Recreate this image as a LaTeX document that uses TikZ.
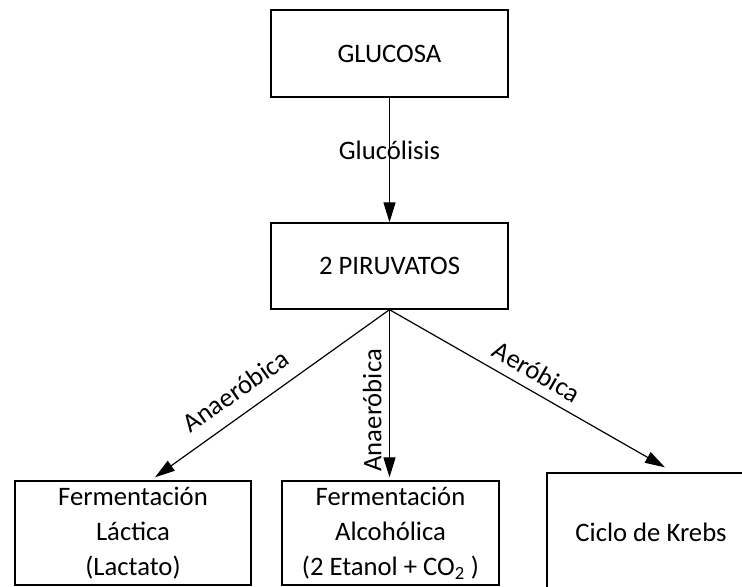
\documentclass[tikz,border=0pt]{standalone}
\usepackage{fontspec}
\setmainfont{Carlito}
\usetikzlibrary{arrows.meta,calc}
\tikzset{
  blk/.style={draw, line width=1pt, inner sep=0pt, align=center, font=\fontsize{20}{26.25}\selectfont},
  lbl/.style={inner sep=2pt, font=\fontsize{20}{24}\selectfont},
  arr/.style={-{Triangle[length=15pt,width=9pt]}, line width=0.9pt},
}
\begin{document}
\begin{tikzpicture}[x=0.75pt,y=0.75pt,yscale=-1,xscale=1]
\useasboundingbox (0,0) rectangle (742,586);
\clip (0,0) rectangle (742,586);

%Boxes
\node[blk, minimum width=177.75pt, minimum height=65.25pt] (glucosa) at (389.5,53.5) {GLUCOSA};
\node[blk, minimum width=177.75pt, minimum height=64.5pt] (piruv) at (389.5,266) {2 PIRUVATOS};
\node[blk, minimum width=177pt, minimum height=78pt] (lactica) at (133,533) {Fermentación\\Láctica\\(Lactato)};
\node[blk, minimum width=162.75pt, minimum height=78pt] (alcoholica) at (390.5,533) {Fermentación\\Alcohólica\\(2 Etanol + CO\textsubscript{2} )};
\node[blk, minimum width=156pt, minimum height=89.25pt] (krebs) at (651,532.5) {Ciclo de Krebs};

%Arrows
\draw[arr] (glucosa) -- node[lbl, pos=0.42] {Glucólisis} (piruv);
\draw[arr] (piruv.south) -- node[lbl, pos=0.6, rotate=35, anchor=south, inner ysep=10pt] {Anaeróbica} ($(lactica.north)+(22,-3)$);
\draw[arr] (piruv.south) -- node[lbl, pos=0.6, rotate=90, anchor=south, inner ysep=5.5pt] {Anaeróbica} ($(piruv.south |- alcoholica.north)+(0,-3)$);
\draw[arr] (piruv.south) -- node[lbl, pos=0.5, rotate=-30, anchor=south, inner ysep=7pt] {Aeróbica} ($(krebs.north)+(14,-5)$);

\end{tikzpicture}
\end{document}
